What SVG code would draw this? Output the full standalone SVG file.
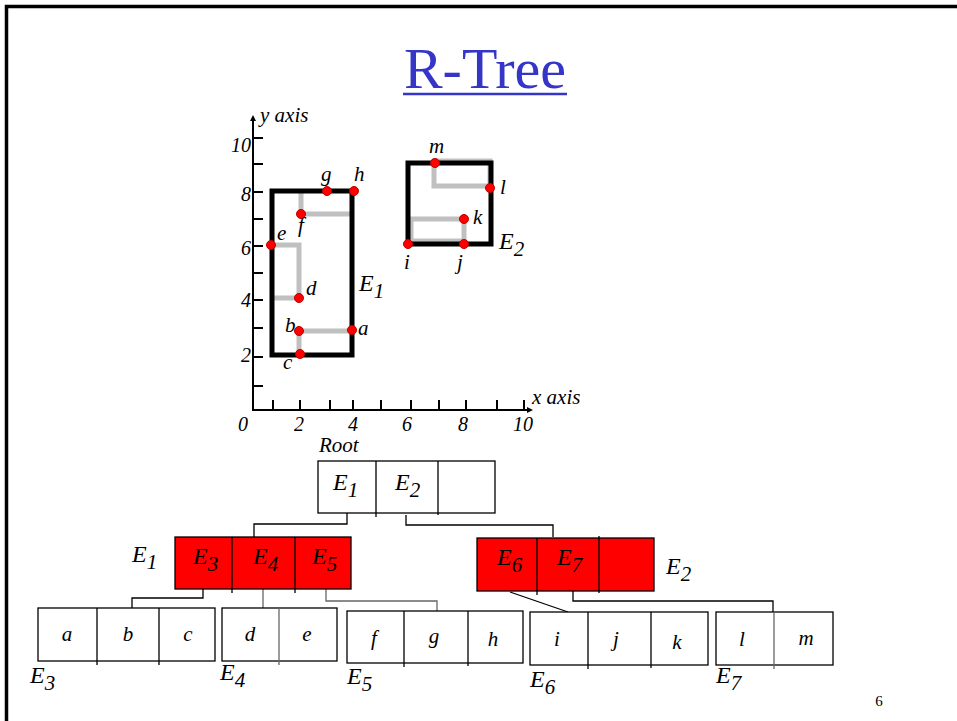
<svg xmlns="http://www.w3.org/2000/svg" width="957" height="721" viewBox="0 0 957 721">
<style>
text{font-family:"Liberation Serif","Times New Roman",serif;fill:#000}
.lab{font-style:italic;font-size:21px}
.num{font-style:italic;font-size:20px}
.E{font-style:italic;font-size:24px}
.leaf{font-style:italic;font-size:21px}
.mbr{fill:none;stroke:#000;stroke-width:5}
.gr{fill:none;stroke:#c0c0c0;stroke-width:5}
.pt{fill:#f00;stroke:#b00;stroke-width:1}
.box{fill:#fff;stroke:#000;stroke-width:1.3}
.red{fill:#f00;stroke:#000;stroke-width:1.3}
.div{stroke:#000;stroke-width:1.3}
.con{fill:none;stroke:#000;stroke-width:1.3}
.cong{fill:none;stroke:#666;stroke-width:1.3}
</style>
<defs>
<marker id="ah" viewBox="0 0 10 10" refX="5" refY="5" markerWidth="3" markerHeight="3" orient="auto"><path d="M0,0 L10,5 L0,10 z" fill="#000"/></marker>
</defs>
<rect width="957" height="721" fill="#fff"/>
<path d="M6.5,721 V6.5 H957" fill="none" stroke="#000" stroke-width="3.5"/>
<g id="title">
<text x="485" y="88" font-size="58" text-anchor="middle" style="fill:#3535c8">R-Tree</text>
<line x1="403" y1="94" x2="567" y2="94" stroke="#3535c8" stroke-width="2.5"/>
</g>
<g id="axes">
<line x1="253" y1="411" x2="253" y2="118" stroke="#000" stroke-width="2" marker-end="url(#ah)"/>
<line x1="252" y1="410" x2="530" y2="410" stroke="#000" stroke-width="2" marker-end="url(#ah)"/>
<path d="M253,138h10M253,164h10M253,192h10M253,219h10M253,246h10M253,273h10M253,300h10M253,328h10M253,357h10M253,386h10" stroke="#000" stroke-width="2"/>
<path d="M273,410v-10M300,410v-10M330,410v-10M353,410v-10M381,410v-10M411,410v-10M439,410v-10M466,410v-10M497,410v-10M524,410v-10" stroke="#000" stroke-width="2"/>
<text x="260" y="122" class="lab">y axis</text>
<text x="532" y="404" class="lab">x axis</text>
<text x="251" y="152" class="num" text-anchor="end">10</text>
<text x="251" y="201" class="num" text-anchor="end">8</text>
<text x="251" y="255" class="num" text-anchor="end">6</text>
<text x="251" y="307" class="num" text-anchor="end">4</text>
<text x="251" y="362" class="num" text-anchor="end">2</text>
<text x="243" y="431" class="num" text-anchor="middle">0</text>
<text x="299" y="431" class="num" text-anchor="middle">2</text>
<text x="353" y="431" class="num" text-anchor="middle">4</text>
<text x="407" y="431" class="num" text-anchor="middle">6</text>
<text x="463" y="431" class="num" text-anchor="middle">8</text>
<text x="523" y="431" class="num" text-anchor="middle">10</text>
</g>
<g id="E1-rect">
<path class="gr" d="M301,191V214H350"/>
<path class="gr" d="M272,245H299V298H271"/>
<path class="gr" d="M352,331H299V355"/>
<rect class="mbr" x="272" y="191" width="80" height="164"/>
<circle class="pt" cx="352" cy="330" r="4.5"/>
<circle class="pt" cx="299" cy="331" r="4.5"/>
<circle class="pt" cx="300" cy="354" r="4.5"/>
<circle class="pt" cx="299" cy="298" r="4.5"/>
<circle class="pt" cx="271" cy="245" r="4.5"/>
<circle class="pt" cx="301" cy="214" r="4.5"/>
<circle class="pt" cx="327" cy="191" r="4.5"/>
<circle class="pt" cx="354" cy="191" r="4.5"/>
<text x="321" y="181" class="lab">g</text>
<text x="354" y="181" class="lab">h</text>
<text x="277" y="240" class="lab">e</text>
<text x="298" y="232" class="lab">f</text>
<text x="306" y="295" class="lab">d</text>
<text x="285" y="332" class="lab">b</text>
<text x="358" y="335" class="lab">a</text>
<text x="283" y="369" class="lab">c</text>
<text x="359" y="291" class="E">E<tspan font-size="21" dy="7">1</tspan></text>
</g>
<g id="E2-rect">
<rect class="gr" x="434" y="161" width="56" height="25"/>
<rect class="gr" x="411" y="219" width="53" height="22"/>
<rect class="mbr" x="408" y="163" width="83" height="81"/>
<circle class="pt" cx="435" cy="163" r="4.5"/>
<circle class="pt" cx="490" cy="188" r="4.5"/>
<circle class="pt" cx="464" cy="219" r="4.5"/>
<circle class="pt" cx="408" cy="244" r="4.5"/>
<circle class="pt" cx="464" cy="244" r="4.5"/>
<text x="429" y="153" class="lab">m</text>
<text x="500" y="194" class="lab">l</text>
<text x="473" y="224" class="lab">k</text>
<text x="404" y="269" class="lab">i</text>
<text x="457" y="269" class="lab">j</text>
<text x="499" y="249" class="E">E<tspan font-size="21" dy="7">2</tspan></text>
</g>
<g id="connectors">
<path class="con" d="M347,513V524H254V537"/>
<path class="con" d="M406,515V525H553V537"/>
<path class="con" d="M203,589V598H132V608"/>
<path class="cong" d="M263,589V608"/>
<path class="cong" d="M326,589V601H437V611"/>
<path class="con" d="M510,592L568,612"/>
<path class="con" d="M573,591V601H773V612"/>
</g>
<g id="root">
<text x="319" y="452" class="lab">Root</text>
<rect class="box" x="318" y="461" width="177" height="52"/>
<path class="div" d="M376,461V517M438,461V515"/>
<text x="333" y="490" class="E">E<tspan font-size="21" dy="7">1</tspan></text>
<text x="395" y="490" class="E">E<tspan font-size="21" dy="7">2</tspan></text>
</g>
<g id="node-E1">
<rect class="red" x="175" y="537" width="176" height="52"/>
<path class="div" d="M232,537V593M295,537V593"/>
<text x="193" y="564" class="E">E<tspan font-size="21" dy="7">3</tspan></text>
<text x="253" y="564" class="E">E<tspan font-size="21" dy="7">4</tspan></text>
<text x="312" y="564" class="E">E<tspan font-size="21" dy="7">5</tspan></text>
<text x="132" y="562" class="E">E<tspan font-size="21" dy="7">1</tspan></text>
</g>
<g id="node-E2">
<rect class="red" x="477" y="538" width="177" height="53"/>
<path class="div" d="M537,538V595M599,536V593"/>
<text x="497" y="565" class="E">E<tspan font-size="21" dy="7">6</tspan></text>
<text x="557" y="565" class="E">E<tspan font-size="21" dy="7">7</tspan></text>
<text x="666" y="574" class="E">E<tspan font-size="21" dy="7">2</tspan></text>
</g>
<g id="node-E3">
<rect class="box" x="38" y="608" width="177" height="53"/>
<path class="div" d="M97,608V665M159,608V665"/>
<text x="67" y="641" class="leaf" text-anchor="middle">a</text>
<text x="128" y="641" class="leaf" text-anchor="middle">b</text>
<text x="188" y="641" class="leaf" text-anchor="middle">c</text>
<text x="30" y="683" class="E">E<tspan font-size="21" dy="7">3</tspan></text>
</g>
<g id="node-E4">
<rect class="box" x="222" y="608" width="115" height="53"/>
<path class="div" d="M279,608V665" style="stroke:#666"/>
<text x="250" y="641" class="leaf" text-anchor="middle">d</text>
<text x="307" y="641" class="leaf" text-anchor="middle">e</text>
<text x="220" y="680" class="E">E<tspan font-size="21" dy="7">4</tspan></text>
</g>
<g id="node-E5">
<rect class="box" x="347" y="611" width="176" height="52"/>
<path class="div" d="M404,611V667M468,611V666"/>
<text x="374" y="645" class="leaf" text-anchor="middle">f</text>
<text x="434" y="643" class="leaf" text-anchor="middle">g</text>
<text x="493" y="646" class="leaf" text-anchor="middle">h</text>
<text x="347" y="684" class="E">E<tspan font-size="21" dy="7">5</tspan></text>
</g>
<g id="node-E6">
<rect class="box" x="530" y="612" width="178" height="53"/>
<path class="div" d="M588,612V669M651,612V668"/>
<text x="557" y="646" class="leaf" text-anchor="middle">i</text>
<text x="616" y="646" class="leaf" text-anchor="middle">j</text>
<text x="677" y="649" class="leaf" text-anchor="middle">k</text>
<text x="530" y="687" class="E">E<tspan font-size="21" dy="7">6</tspan></text>
</g>
<g id="node-E7">
<rect class="box" x="716" y="612" width="117" height="53"/>
<path class="div" d="M774,612V669" style="stroke:#666"/>
<text x="742" y="646" class="leaf" text-anchor="middle">l</text>
<text x="806" y="645" class="leaf" text-anchor="middle">m</text>
<text x="716" y="683" class="E">E<tspan font-size="21" dy="7">7</tspan></text>
</g>
<text x="879" y="706" font-size="15" text-anchor="middle">6</text>
</svg>
